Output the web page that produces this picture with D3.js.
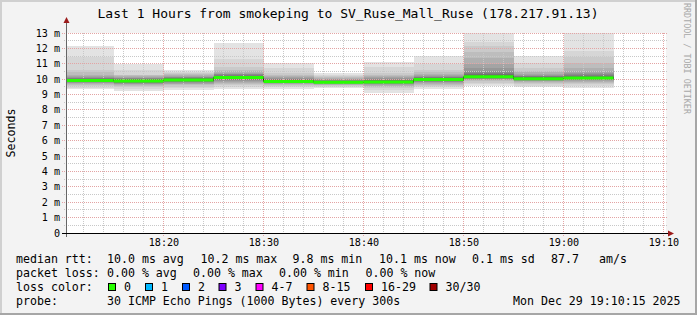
<!DOCTYPE html>
<html>
<head>
<meta charset="utf-8">
<script src="https://cdn.jsdelivr.net/npm/d3@7"></script>
<style>
body { margin: 0; background: #f3f3f3; }
svg { display: block; font-family: "DejaVu Sans Mono", monospace; }
</style>
</head>
<body>
<svg id="chart" width="697" height="315"></svg>
<script>
// Data -----------------------------------------
var title = "Last 1 Hours from smokeping to SV_Ruse_Mall_Ruse (178.217.91.13)";
var binStarts = ["18:10", "18:15", "18:20", "18:25", "18:30", "18:35",
                 "18:40", "18:45", "18:50", "18:55", "19:00"];
var binLength = 300;   // seconds
// 30 sorted rtt values (ms) per bin
var pings = [
  [9.34, 9.45, 9.55, 9.62, 9.68, 9.73, 9.77, 9.80, 9.83, 9.85, 9.87, 9.88, 9.89, 9.90, 9.91, 9.93, 9.94, 9.96, 9.98, 10.00, 10.03, 10.06, 10.10, 10.15, 10.22, 10.30, 10.45, 10.60, 11.46, 12.17],
  [9.25, 9.38, 9.48, 9.56, 9.62, 9.67, 9.71, 9.75, 9.78, 9.81, 9.83, 9.85, 9.86, 9.87, 9.88, 9.89, 9.90, 9.92, 9.94, 9.96, 9.99, 10.02, 10.05, 10.09, 10.13, 10.18, 10.24, 10.30, 10.60, 10.96],
  [9.30, 9.42, 9.52, 9.60, 9.66, 9.71, 9.75, 9.79, 9.82, 9.85, 9.87, 9.89, 9.91, 9.93, 9.94, 9.96, 9.97, 9.99, 10.01, 10.03, 10.06, 10.09, 10.12, 10.16, 10.20, 10.25, 10.31, 10.38, 10.45, 10.60],
  [9.34, 9.48, 9.60, 9.70, 9.78, 9.84, 9.89, 9.93, 9.97, 10.00, 10.02, 10.04, 10.06, 10.08, 10.09, 10.11, 10.13, 10.15, 10.17, 10.20, 10.23, 10.27, 10.31, 10.36, 10.42, 10.50, 10.62, 10.80, 11.30, 12.33],
  [9.34, 9.46, 9.55, 9.62, 9.67, 9.71, 9.74, 9.77, 9.79, 9.80, 9.81, 9.82, 9.83, 9.84, 9.85, 9.86, 9.88, 9.90, 9.92, 9.94, 9.97, 10.00, 10.04, 10.08, 10.13, 10.19, 10.27, 10.38, 10.70, 11.07],
  [9.40, 9.49, 9.56, 9.61, 9.65, 9.68, 9.71, 9.73, 9.75, 9.76, 9.77, 9.78, 9.79, 9.795, 9.80, 9.805, 9.81, 9.82, 9.84, 9.86, 9.88, 9.91, 9.94, 9.98, 10.02, 10.07, 10.13, 10.20, 10.28, 10.38],
  [9.12, 9.28, 9.40, 9.50, 9.57, 9.63, 9.67, 9.71, 9.74, 9.76, 9.78, 9.79, 9.80, 9.805, 9.81, 9.815, 9.82, 9.84, 9.86, 9.89, 9.92, 9.96, 10.00, 10.05, 10.11, 10.18, 10.27, 10.40, 10.80, 11.10],
  [9.34, 9.47, 9.57, 9.65, 9.71, 9.76, 9.80, 9.84, 9.87, 9.89, 9.91, 9.93, 9.94, 9.95, 9.96, 9.98, 9.99, 10.01, 10.03, 10.05, 10.08, 10.11, 10.15, 10.20, 10.26, 10.34, 10.45, 10.60, 11.00, 11.50],
  [9.55, 9.68, 9.78, 9.86, 9.92, 9.97, 10.00, 10.03, 10.06, 10.08, 10.10, 10.11, 10.12, 10.13, 10.14, 10.16, 10.18, 10.20, 10.23, 10.27, 10.33, 10.42, 10.55, 10.75, 11.00, 11.35, 11.75, 12.15, 12.44, 13.40],
  [9.47, 9.58, 9.67, 9.74, 9.80, 9.85, 9.89, 9.92, 9.95, 9.97, 9.99, 10.00, 10.01, 10.02, 10.03, 10.04, 10.05, 10.07, 10.09, 10.11, 10.14, 10.18, 10.23, 10.29, 10.36, 10.44, 10.55, 10.75, 11.03, 11.50],
  [9.40, 9.55, 9.66, 9.75, 9.82, 9.88, 9.93, 9.97, 10.00, 10.02, 10.03, 10.04, 10.05, 10.06, 10.07, 10.08, 10.09, 10.11, 10.13, 10.16, 10.20, 10.25, 10.32, 10.42, 10.56, 10.75, 11.05, 11.45, 11.85, 13.60]
];
var medians = [9.92, 9.88, 9.95, 10.10, 9.85, 9.80, 9.81, 9.97, 10.15, 10.03, 10.07];

var rttText  = ["median rtt:", "10.0 ms avg", "10.2 ms max", "9.8 ms min", "10.1 ms now", "0.1 ms sd", "87.7", "am/s"];
var lossText = ["packet loss:", "0.00 % avg", "0.00 % max", "0.00 % min", "0.00 % now"];
var lossNames  = ["0", "1", "2", "3", "4-7", "8-15", "16-29", "30/30"];
var lossColors = ["#26ff00", "#00b8ff", "#0059ff", "#7e00ff", "#ff00ff", "#ff5500", "#ff0000", "#a10000"];
var probeText = ["probe:", "30 ICMP Echo Pings (1000 Bytes) every 300s", "Mon Dec 29 19:10:15 2025"];

// Layout ---------------------------------------
var svg = d3.select("#chart");
var W = 697, H = 315;
var pLeft = 66, pRight = 666, pTop = 33, pBottom = 233;
var colX   = [16, 107, 200.5, 292.5, 379, 472, 551, 599];
var lossX  = [16, 107, 193, 279, 365.5];
var boxX   = [108.5, 145.5, 182.5, 219, 256, 307, 365.5, 430];
var probeX = [16, 107, 513];
var rowY   = [263, 277, 291, 305];

function t(s) {
  var p = s.split(":");
  return new Date(Date.UTC(2025, 11, 29, +p[0], +p[1], +(p[2] || 0)));
}
function snap(v) { return Math.floor(v) + 0.5; }

var x = d3.scaleUtc()
    .domain([t("18:10:15"), t("19:10:15")])
    .range([pLeft, pRight]);
var y = d3.scaleLinear()
    .domain([0, 13])
    .range([pBottom, pTop]);

// Background + frame ---------------------------
svg.append("rect").attr("width", W).attr("height", H).attr("fill", "#f3f3f3");
svg.append("rect").attr("x", pLeft).attr("y", pTop)
    .attr("width", pRight - pLeft).attr("height", pBottom - pTop).attr("fill", "#ffffff");
svg.append("path").attr("d", "M1,315V1H697").attr("fill", "none")
    .attr("stroke", "#d0d0d0").attr("stroke-width", 2);
svg.append("path").attr("d", "M0,314H696V0").attr("fill", "none")
    .attr("stroke", "#a6a6a6").attr("stroke-width", 2);

svg.append("clipPath").attr("id", "plot")
  .append("rect").attr("x", pLeft).attr("y", pTop)
    .attr("width", pRight - pLeft).attr("height", pBottom - pTop);

// Smoke ----------------------------------------
var half = 15;
var bands = [];
pings.forEach(function(p, b) {
  var x0 = Math.max(x(t(binStarts[b])), pLeft);
  var x1 = x(new Date(t(binStarts[b]).getTime() + binLength * 1000));
  for (var ii = 1; ii <= half; ii++) {
    var g = Math.floor(190 / half * (half - ii)) + 50;
    bands.push({ x0: x0, x1: x1, lo: p[ii - 1], hi: p[p.length - ii], c: d3.rgb(g, g, g) });
  }
});
svg.append("g").attr("clip-path", "url(#plot)")
  .selectAll("rect")
  .data(bands)
  .enter()
  .append("rect")
    .attr("x", function(d) { return d.x0 })
    .attr("width", function(d) { return d.x1 - d.x0 })
    .attr("y", function(d) { return y(d.hi) })
    .attr("height", function(d) { return y(d.lo) - y(d.hi) })
    .attr("fill", function(d) { return d.c })
    .attr("shape-rendering", "crispEdges");

// Grid -----------------------------------------
var grid = svg.append("g").attr("fill", "none").attr("stroke-dasharray", "1,1");
var minorY = d3.range(1, 26, 2).map(function(d) { return d / 2 });
grid.selectAll(".hminor").data(minorY).enter().append("line")
    .attr("x1", pLeft - 2).attr("x2", pRight + 2)
    .attr("y1", function(d) { return snap(y(d)) })
    .attr("y2", function(d) { return snap(y(d)) })
    .attr("stroke", "#c8c8c8");
var minorX = x.ticks(d3.utcMinute.every(2)).filter(function(d) { return d.getUTCMinutes() % 10 });
grid.selectAll(".vminor").data(minorX).enter().append("line")
    .attr("x1", function(d) { return snap(x(d)) })
    .attr("x2", function(d) { return snap(x(d)) })
    .attr("y1", pTop).attr("y2", pBottom + 2)
    .attr("stroke", "#c8c8c8");
var majorY = y.ticks(13).filter(function(d) { return d > 0 });
grid.selectAll(".hmajor").data(majorY).enter().append("line")
    .attr("x1", pLeft - 4).attr("x2", pRight + 2)
    .attr("y1", function(d) { return snap(y(d)) })
    .attr("y2", function(d) { return snap(y(d)) })
    .attr("stroke", "#e3a4a4");
var majorX = x.ticks(d3.utcMinute.every(10));
grid.selectAll(".vmajor").data(majorX).enter().append("line")
    .attr("x1", function(d) { return snap(x(d)) })
    .attr("x2", function(d) { return snap(x(d)) })
    .attr("y1", pTop).attr("y2", pBottom + 4)
    .attr("stroke", "#e3a4a4");

// Median line ----------------------------------
var medPts = [];
medians.forEach(function(m, b) {
  medPts.push([Math.max(x(t(binStarts[b])), pLeft), m]);
});
medPts.push([x(new Date(t(binStarts[medians.length - 1]).getTime() + binLength * 1000)), medians[medians.length - 1]]);
var stepLine = d3.line()
    .x(function(d) { return d[0] })
    .y(function(d) { return y(d[1]) })
    .curve(d3.curveStepAfter);
svg.append("path").datum(medPts)
    .attr("d", stepLine).attr("fill", "none")
    .attr("stroke", "#202020").attr("stroke-width", 1);
svg.append("g").selectAll("line")
  .data(medians)
  .enter()
  .append("line")
    .attr("x1", function(d, i) { return medPts[i][0] })
    .attr("x2", function(d, i) { return medPts[i + 1][0] })
    .attr("y1", function(d) { return y(d) })
    .attr("y2", function(d) { return y(d) })
    .attr("stroke", lossColors[0]).attr("stroke-width", 3);

// Axes -----------------------------------------
svg.append("line").attr("x1", pLeft + 0.5).attr("x2", pLeft + 0.5)
    .attr("y1", pBottom + 4).attr("y2", pTop - 10).attr("stroke", "#666666");
svg.append("line").attr("x1", pLeft - 4).attr("x2", pRight + 2)
    .attr("y1", pBottom + 0.5).attr("y2", pBottom + 0.5).attr("stroke", "#000000");
svg.append("path")
    .attr("d", "M" + (pLeft - 2.5) + "," + (pTop - 10) + "L" + (pLeft + 0.5) + "," + (pTop - 16) + "L" + (pLeft + 3.5) + "," + (pTop - 10) + "Z")
    .attr("fill", "#9b1b1b");
svg.append("path")
    .attr("d", "M" + (pRight + 2) + "," + (pBottom - 2.5) + "L" + (pRight + 8) + "," + (pBottom + 0.5) + "L" + (pRight + 2) + "," + (pBottom + 3.5) + "Z")
    .attr("fill", "#9b1b1b");

svg.append("g").selectAll("text")
  .data(y.ticks(13))
  .enter()
  .append("text")
    .attr("x", 60).attr("y", function(d) { return y(d) + 3.5 })
    .attr("text-anchor", "end")
    .attr("font-size", "10.1px").attr("fill", "#000")
    .text(function(d) { return d === 0 ? "0" : d + " m" });

svg.append("g").selectAll("text")
  .data(majorX)
  .enter()
  .append("text")
    .attr("x", function(d) { return x(d) + 0.5 }).attr("y", 246)
    .attr("text-anchor", "middle")
    .attr("font-size", "10.1px").attr("fill", "#000")
    .text(d3.utcFormat("%H:%M"));

// Titles ---------------------------------------
svg.append("text").attr("x", 348).attr("y", 18)
    .attr("text-anchor", "middle").attr("font-size", "13px").attr("fill", "#000")
    .text(title);
svg.append("text")
    .attr("transform", "translate(14.5,133) rotate(-90)")
    .attr("text-anchor", "middle").attr("font-size", "11.6px").attr("fill", "#000")
    .text("Seconds");
svg.append("text")
    .attr("transform", "translate(684,3) rotate(90)")
    .attr("font-size", "8.4px").attr("fill", "#a8a8a8")
    .text("RRDTOOL / TOBI OETIKER");

// Legend ---------------------------------------
var legend = svg.append("g").attr("font-size", "11.6px").attr("fill", "#000")
    .attr("xml:space", "preserve");
legend.selectAll(".rtt").data(rttText).enter().append("text")
    .attr("x", function(d, i) { return colX[i] }).attr("y", rowY[0]).text(function(d) { return d });
legend.selectAll(".loss").data(lossText).enter().append("text")
    .attr("x", function(d, i) { return lossX[i] }).attr("y", rowY[1]).text(function(d) { return d });
legend.append("text").attr("x", 16).attr("y", rowY[2]).text("loss color:");
legend.selectAll(".box").data(lossNames).enter().append("rect")
    .attr("x", function(d, i) { return boxX[i] }).attr("y", rowY[2] - 7.5)
    .attr("width", 7).attr("height", 7)
    .attr("fill", function(d, i) { return lossColors[i] })
    .attr("stroke", "#000").attr("stroke-width", 1);
legend.selectAll(".lname").data(lossNames).enter().append("text")
    .attr("x", function(d, i) { return boxX[i] + 15.5 }).attr("y", rowY[2]).text(function(d) { return d });
legend.selectAll(".probe").data(probeText).enter().append("text")
    .attr("x", function(d, i) { return probeX[i] }).attr("y", rowY[3]).text(function(d) { return d });
</script>
</body>
</html>
